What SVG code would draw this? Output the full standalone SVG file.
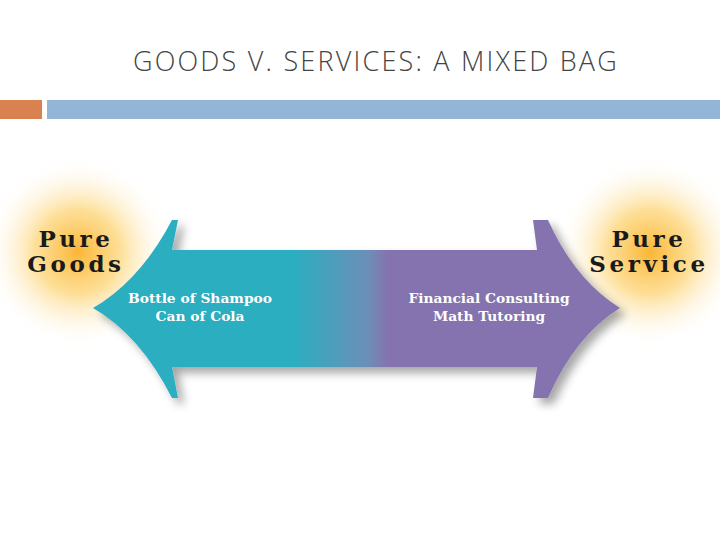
<svg xmlns="http://www.w3.org/2000/svg" width="720" height="540" viewBox="0 0 720 540">
<defs>
<radialGradient id="glow"><stop offset="0" stop-color="#fbb634"/><stop offset="0.45" stop-color="#fdd77f" stop-opacity="0.8"/><stop offset="1" stop-color="#fff" stop-opacity="0"/></radialGradient>
<linearGradient id="ag" gradientUnits="userSpaceOnUse" x1="93" y1="0" x2="620" y2="0"><stop offset="0.38" stop-color="#2aaec0"/><stop offset="0.52" stop-color="#6c8fb8"/><stop offset="0.56" stop-color="#8473ae"/></linearGradient>
<filter id="sh" x="-10%" y="-10%" width="130%" height="130%"><feGaussianBlur in="SourceAlpha" stdDeviation="5"/><feOffset dx="6" dy="6"/><feComponentTransfer><feFuncA type="linear" slope="0.35"/></feComponentTransfer><feMerge><feMergeNode/><feMergeNode in="SourceGraphic"/></feMerge></filter>
<style>.lbl{font-family:"DejaVu Serif",serif;font-weight:bold;font-size:23px;letter-spacing:3.6px;fill:#1a1a1a;text-anchor:middle}.it{font-family:"DejaVu Serif",serif;font-weight:bold;font-size:13.8px;fill:#fff;text-anchor:middle}</style>
</defs>
<rect width="720" height="540" fill="#fff"/>
<text x="376" y="71" font-family="Open Sans, sans-serif" font-weight="300" font-size="27" letter-spacing="2.2" fill="#444" text-anchor="middle">GOODS V. SERVICES: A MIXED BAG</text>
<rect x="0" y="100" width="42" height="19" fill="#d9824f"/>
<rect x="47" y="100" width="673" height="19" fill="#93b6d6"/>
<g id="glow-left"><circle cx="78" cy="252" r="95" fill="url(#glow)"/></g>
<g id="glow-right"><circle cx="650" cy="252" r="95" fill="url(#glow)"/></g>
<g id="connectors"><path filter="url(#sh)" fill="url(#ag)" d="M172,220 L178,220 L172,250 L537,250 L533,220 L548,220 Q575,280 620,308 Q575,336 548,398 L533,398 L537,367 L172,367 L178,398 L172,398 Q140,335 93,308 Q140,281 172,220 Z"/></g>
<g id="pure-goods"><text class="lbl" x="76" y="247">Pure</text><text class="lbl" x="76" y="272">Goods</text></g>
<g id="pure-service"><text class="lbl" x="649" y="247">Pure</text><text class="lbl" x="649" y="272">Service</text></g>
<g id="goods-items"><text class="it" x="200" y="303">Bottle of Shampoo</text><text class="it" x="200" y="321">Can of Cola</text></g>
<g id="service-items"><text class="it" x="489" y="303">Financial Consulting</text><text class="it" x="489" y="321">Math Tutoring</text></g>
</svg>
